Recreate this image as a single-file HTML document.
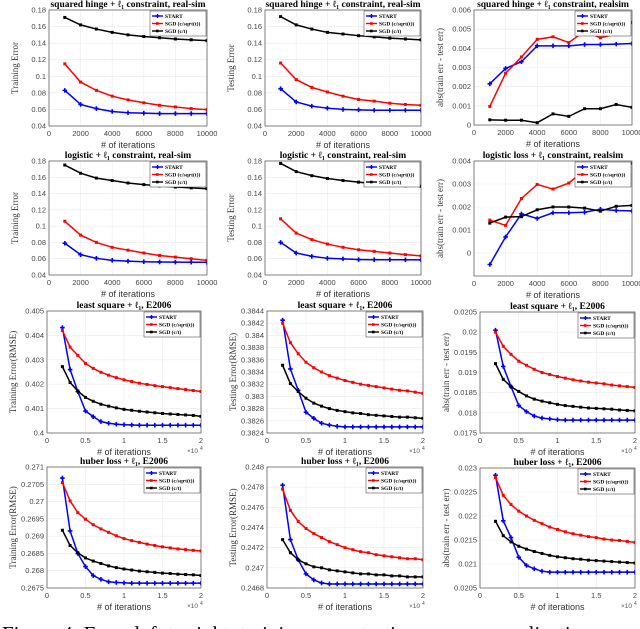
<!DOCTYPE html>
<html><head><meta charset="utf-8"><style>
body{margin:0;background:#fff;width:640px;height:629px;overflow:hidden}
svg{display:block}
</style></head><body>
<svg id="fig" width="640" height="629" xmlns="http://www.w3.org/2000/svg"></svg>
<script>
const xIter10 = [1000,2000,3000,4000,5000,6000,7000,8000,9000,10000];
const xIter19 = [2000,3000,4000,5000,6000,7000,8000,9000,10000,11000,12000,13000,14000,15000,16000,17000,18000,19000,20000];
const seriesNames = ["START","SGD (c/sqrt(t))","SGD (c/t)"];
const p1Start=[0.083,0.066,0.061,0.0575,0.056,0.0555,0.055,0.055,0.055,0.055];
const p1Sqrt=[0.115,0.093,0.083,0.076,0.0715,0.068,0.065,0.063,0.061,0.0598];
const p1T=[0.171,0.162,0.157,0.153,0.150,0.148,0.1465,0.145,0.144,0.143];
const p2Start=[0.085,0.069,0.064,0.0615,0.060,0.0595,0.059,0.059,0.059,0.059];
const p2Sqrt=[0.116,0.096,0.0865,0.081,0.076,0.072,0.070,0.0675,0.066,0.065];
const p2T=[0.172,0.162,0.157,0.153,0.151,0.149,0.1475,0.146,0.145,0.144];
const p3Start=[0.00215,0.00295,0.0033,0.00413,0.00413,0.00413,0.0042,0.0042,0.00422,0.00425];
const p3Sqrt=[0.00097,0.0027,0.00355,0.00447,0.0046,0.0043,0.0049,0.00455,0.00475,0.00535];
const p3T=[0.00027,0.00025,0.00025,0.00012,0.00058,0.00045,0.00085,0.00085,0.00107,0.00092];
const p4Start=[0.079,0.065,0.0605,0.058,0.057,0.0563,0.056,0.0558,0.0557,0.0556];
const p4Sqrt=[0.106,0.089,0.080,0.074,0.0705,0.067,0.064,0.062,0.060,0.058];
const p4T=[0.175,0.165,0.159,0.156,0.153,0.151,0.1495,0.148,0.147,0.146];
const p5Start=[0.080,0.067,0.063,0.0605,0.0598,0.059,0.0588,0.0588,0.0587,0.0586];
const p5Sqrt=[0.109,0.0915,0.0835,0.078,0.074,0.071,0.069,0.067,0.065,0.0635];
const p5T=[0.177,0.167,0.162,0.1585,0.156,0.154,0.152,0.151,0.1495,0.149];
const p6Start=[-0.0005,0.0007,0.0017,0.0015,0.00175,0.00175,0.00177,0.0019,0.00185,0.00183];
const p6Sqrt=[0.00143,0.0012,0.00237,0.00298,0.00278,0.00304,0.0036,0.0037,0.0036,0.0039];
const p6T=[0.0013,0.00156,0.00158,0.00188,0.002,0.002,0.00195,0.00182,0.00203,0.00207];
const p7Start=[0.40432,0.4026,0.4017,0.4009,0.40067,0.40047,0.4004,0.40036,0.40034,0.40033,0.40032,0.40032,0.40032,0.40032,0.40032,0.40032,0.40032,0.40032,0.40032];
const p7Sqrt=[0.4042,0.40352,0.40318,0.40285,0.40265,0.40249,0.40237,0.40227,0.40218,0.40211,0.40204,0.40199,0.40194,0.4019,0.40186,0.40182,0.40178,0.40174,0.4017];
const p7T=[0.40272,0.40207,0.40172,0.40146,0.4013,0.40118,0.4011,0.40103,0.40097,0.40093,0.40089,0.40086,0.40083,0.4008,0.40078,0.40076,0.40074,0.40072,0.40068];
const p8Start=[0.38425,0.38345,0.3831,0.38274,0.38264,0.38256,0.38253,0.38251,0.3825,0.3825,0.3825,0.3825,0.3825,0.3825,0.3825,0.3825,0.3825,0.3825,0.3825];
const p8Sqrt=[0.3842,0.38388,0.3837,0.38356,0.38347,0.3834,0.38334,0.3833,0.38326,0.38323,0.3832,0.38318,0.38316,0.38314,0.38312,0.3831,0.38309,0.38307,0.38305];
const p8T=[0.38351,0.38321,0.38308,0.38297,0.38289,0.38284,0.3828,0.38277,0.38275,0.38273,0.38272,0.3827,0.38269,0.38268,0.38267,0.38266,0.38266,0.38265,0.38264];
const p9Start=[0.02005,0.01915,0.01865,0.01818,0.01803,0.01792,0.01787,0.01785,0.01783,0.01782,0.01782,0.01782,0.01782,0.01782,0.01782,0.01782,0.01782,0.01782,0.01782];
const p9Sqrt=[0.02,0.01965,0.01945,0.01928,0.01918,0.01908,0.019,0.01895,0.0189,0.01886,0.01882,0.01879,0.01876,0.01874,0.01872,0.01869,0.01867,0.01865,0.01863];
const p9T=[0.01922,0.01883,0.01865,0.01853,0.01842,0.01834,0.01829,0.01825,0.01821,0.01818,0.01816,0.01814,0.01812,0.01811,0.0181,0.01809,0.01807,0.01806,0.01805];
const p10Start=[0.27068,0.26915,0.2685,0.26812,0.26786,0.26775,0.26768,0.26766,0.26765,0.26764,0.26764,0.26764,0.26764,0.26764,0.26764,0.26764,0.26764,0.26764,0.26764];
const p10Sqrt=[0.27055,0.27002,0.26968,0.26949,0.26933,0.26921,0.26911,0.26901,0.26893,0.26887,0.26882,0.26877,0.26873,0.26869,0.26866,0.26863,0.26861,0.26859,0.26857];
const p10T=[0.26917,0.26873,0.26852,0.26837,0.26828,0.26821,0.26814,0.26809,0.26805,0.26802,0.26799,0.26797,0.26795,0.26793,0.26792,0.2679,0.26789,0.26788,0.26786];
const p11Start=[0.24782,0.24728,0.24708,0.24694,0.24688,0.24685,0.24684,0.24684,0.24684,0.24684,0.24684,0.24684,0.24684,0.24684,0.24684,0.24684,0.24684,0.24684,0.24684];
const p11Sqrt=[0.24778,0.24757,0.24746,0.24739,0.24734,0.2473,0.24726,0.24723,0.2472,0.24718,0.24716,0.24715,0.24713,0.24712,0.24711,0.2471,0.24709,0.24709,0.24708];
const p11T=[0.24728,0.24715,0.24708,0.24704,0.24701,0.247,0.24698,0.24697,0.24696,0.24695,0.24694,0.24694,0.24693,0.24693,0.24692,0.24692,0.24691,0.24691,0.24691];
const p12Start=[0.02285,0.0219,0.02155,0.02114,0.02097,0.0209,0.02085,0.02083,0.02083,0.02083,0.02083,0.02083,0.02083,0.02083,0.02083,0.02083,0.02083,0.02083,0.02083];
const p12Sqrt=[0.0228,0.02243,0.02224,0.0221,0.022,0.02191,0.02184,0.02177,0.02172,0.02167,0.02163,0.0216,0.02157,0.02155,0.02152,0.0215,0.02149,0.02147,0.02145];
const p12T=[0.02189,0.02159,0.02146,0.02137,0.02131,0.02126,0.02122,0.02118,0.02115,0.02113,0.02111,0.0211,0.02108,0.02107,0.02106,0.02105,0.02104,0.02103,0.02102];

const xTicks10=[0,2000,4000,6000,8000,10000];
const xTickLabels10=["0","2000","4000","6000","8000","10000"];
const xTicks19=[0,5000,10000,15000,20000];
const xTickLabels19=["0","0.5","1","1.5","2"];
const yTicksErr=[0.04,0.06,0.08,0.1,0.12,0.14,0.16,0.18];
const yLabErr=["0.04","0.06","0.08","0.1","0.12","0.14","0.16","0.18"];
const yTicksP3=[0,0.001,0.002,0.003,0.004,0.005,0.006];
const yLabP3=["0","0.001","0.002","0.003","0.004","0.005","0.006"];
const yTicksP6=[0,0.001,0.002,0.003,0.004];
const yLabP6=["0","0.001","0.002","0.003","0.004"];
const yTicksP7=[0.4,0.401,0.402,0.403,0.404,0.405];
const yLabP7=["0.4","0.401","0.402","0.403","0.404","0.405"];
const yTicksP8=[0.3824,0.3826,0.3828,0.383,0.3832,0.3834,0.3836,0.3838,0.384,0.3842,0.3844];
const yLabP8=["0.3824","0.3826","0.3828","0.383","0.3832","0.3834","0.3836","0.3838","0.384","0.3842","0.3844"];
const yTicksP9=[0.0175,0.018,0.0185,0.019,0.0195,0.02,0.0205];
const yLabP9=["0.0175","0.018","0.0185","0.019","0.0195","0.02","0.0205"];
const yTicksP10=[0.2675,0.268,0.2685,0.269,0.2695,0.27,0.2705,0.271];
const yLabP10=["0.2675","0.268","0.2685","0.269","0.2695","0.27","0.2705","0.271"];
const yTicksP11=[0.2468,0.247,0.2472,0.2474,0.2476,0.2478,0.248];
const yLabP11=["0.2468","0.247","0.2472","0.2474","0.2476","0.2478","0.248"];
const yTicksP12=[0.0205,0.021,0.0215,0.022,0.0225,0.023];
const yLabP12=["0.0205","0.021","0.0215","0.022","0.0225","0.023"];

const NS="http://www.w3.org/2000/svg";
const svg=document.getElementById('fig');
function mk(tag,attrs,parent){const e=document.createElementNS(NS,tag);for(const k in attrs)e.setAttribute(k,attrs[k]);(parent||svg).appendChild(e);return e;}
const colors=["#0000ff","#ff0000","#000000"];

const panels=[
 {t:"squared hinge + ℓ₁ constraint, real-sim",yl:"Training Error",f:[49,207,10,126],x:xIter10,xt:xTicks10,xtl:xTickLabels10,xd:[0,10000],yd:[0.04,0.18],yt:yTicksErr,ytl:yLabErr,s:[p1Start,p1Sqrt,p1T],e:false,n:"squared-hinge-train"},
 {t:"squared hinge + ℓ₁ constraint, real-sim",yl:"Testing Error",f:[265,421,10,126],x:xIter10,xt:xTicks10,xtl:xTickLabels10,xd:[0,10000],yd:[0.04,0.18],yt:yTicksErr,ytl:yLabErr,s:[p2Start,p2Sqrt,p2T],e:false,n:"squared-hinge-test"},
 {t:"squared hinge + ℓ₁ constraint, realsim",yl:"abs(train err - test err)",f:[474,632,10,125],x:xIter10,xt:xTicks10,xtl:xTickLabels10,xd:[0,10000],yd:[0,0.006],yt:yTicksP3,ytl:yLabP3,s:[p3Start,p3Sqrt,p3T],e:false,n:"squared-hinge-gen"},
 {t:"logistic + ℓ₁ constraint, real-sim",yl:"Training Error",f:[49,207,161,275],x:xIter10,xt:xTicks10,xtl:xTickLabels10,xd:[0,10000],yd:[0.04,0.18],yt:yTicksErr,ytl:yLabErr,s:[p4Start,p4Sqrt,p4T],e:false,n:"logistic-train"},
 {t:"logistic + ℓ₁ constraint, real-sim",yl:"Testing Error",f:[265,421,161,275],x:xIter10,xt:xTicks10,xtl:xTickLabels10,xd:[0,10000],yd:[0.04,0.18],yt:yTicksErr,ytl:yLabErr,s:[p5Start,p5Sqrt,p5T],e:false,n:"logistic-test"},
 {t:"logistic loss + ℓ₁ constraint, realsim",yl:"abs(train err - test err)",f:[474,632,161,276],x:xIter10,xt:xTicks10,xtl:xTickLabels10,xd:[0,10000],yd:[-0.001,0.004],yt:yTicksP6,ytl:yLabP6,s:[p6Start,p6Sqrt,p6T],e:false,n:"logistic-gen"},
 {t:"least square + ℓ₁, E2006",yl:"Training Error(RMSE)",f:[47,201,311,433],x:xIter19,xt:xTicks19,xtl:xTickLabels19,xd:[0,20000],yd:[0.4,0.405],yt:yTicksP7,ytl:yLabP7,s:[p7Start,p7Sqrt,p7T],e:true,n:"least-square-train"},
 {t:"least square + ℓ₁, E2006",yl:"Testing Error(RMSE)",f:[267,423,311,433],x:xIter19,xt:xTicks19,xtl:xTickLabels19,xd:[0,20000],yd:[0.3824,0.3844],yt:yTicksP8,ytl:yLabP8,s:[p8Start,p8Sqrt,p8T],e:true,n:"least-square-test"},
 {t:"least square + ℓ₁, E2006",yl:"abs(train err - test err)",f:[480,635,312,433],x:xIter19,xt:xTicks19,xtl:xTickLabels19,xd:[0,20000],yd:[0.0175,0.0205],yt:yTicksP9,ytl:yLabP9,s:[p9Start,p9Sqrt,p9T],e:true,n:"least-square-gen"},
 {t:"huber loss + ℓ₁, E2006",yl:"Training Error(RMSE)",f:[47,201,467,588],x:xIter19,xt:xTicks19,xtl:xTickLabels19,xd:[0,20000],yd:[0.2675,0.271],yt:yTicksP10,ytl:yLabP10,s:[p10Start,p10Sqrt,p10T],e:true,n:"huber-train"},
 {t:"huber loss + ℓ₁, E2006",yl:"Testing Error(RMSE)",f:[267,423,467,588],x:xIter19,xt:xTicks19,xtl:xTickLabels19,xd:[0,20000],yd:[0.2468,0.248],yt:yTicksP11,ytl:yLabP11,s:[p11Start,p11Sqrt,p11T],e:true,n:"huber-test"},
 {t:"huber loss + ℓ₁, E2006",yl:"abs(train err - test err)",f:[480,635,468,588],x:xIter19,xt:xTicks19,xtl:xTickLabels19,xd:[0,20000],yd:[0.0205,0.023],yt:yTicksP12,ytl:yLabP12,s:[p12Start,p12Sqrt,p12T],e:true,n:"huber-gen"}
];

let cid=0;
panels.forEach(p=>{
  const [x0,x1,y0,y1]=p.f;
  const g=mk('g',{});
  
  
  const sx=v=>x0+(v-p.xd[0])/(p.xd[1]-p.xd[0])*(x1-x0);
  const sy=v=>y1-(v-p.yd[0])/(p.yd[1]-p.yd[0])*(y1-y0);
  p.yt.forEach((v,i)=>{
    const y=sy(v);
    mk('line',{x1:x0,x2:x1,y1:y,y2:y,stroke:'#ebebeb','stroke-width':0.6},g);
    const t=mk('text',{x:x0-3,y:y+2.5,'text-anchor':'end','font-size':7.5,fill:'#444','font-family':'Liberation Sans, sans-serif'},g);
    t.textContent=p.ytl[i];
    
    
  });
  p.xt.forEach((v,i)=>{
    const x=sx(v);
    mk('line',{x1:x,x2:x,y1:y0,y2:y1,stroke:'#ebebeb','stroke-width':0.6},g);
    const t=mk('text',{x:x,y:y1+10,'text-anchor':'middle','font-size':7.5,fill:'#444','font-family':'Liberation Sans, sans-serif'},g);
    t.textContent=p.xtl[i];
    
    
  });
  const clipId='c'+(cid++);
  const cp=mk('clipPath',{id:clipId},g);
  mk('rect',{x:x0,y:y0,width:x1-x0,height:y1-y0},cp);
  p.s.forEach((arr,si)=>{
    const sg=mk('g',{'clip-path':'url(#'+clipId+')'},g);
    
    
    const pts=arr.map((v,i)=>sx(p.x[i]).toFixed(2)+','+sy(v).toFixed(2)).join(' ');
    mk('polyline',{points:pts,fill:'none',stroke:colors[si],'stroke-width':1.5},sg);
    arr.forEach((v,i)=>{
      const cx=sx(p.x[i]),cy=sy(v);
      if(si===0){
        mk('path',{d:`M${cx-2.3},${cy}H${cx+2.3}M${cx},${cy-2.3}V${cy+2.3}`,stroke:colors[0],'stroke-width':1.6},sg);
      } else {
        mk('rect',{x:cx-1.5,y:cy-1.5,width:3,height:3,fill:colors[si]},sg);
      }
    });
  });
  mk('rect',{x:x0,y:y0,width:x1-x0,height:y1-y0,fill:'none',stroke:'#333','stroke-width':0.6},g);
  const tt=mk('text',{x:(x0+x1)/2,y:y0-3,'text-anchor':'middle','font-size':9.5,'font-weight':'bold',fill:'#000','font-family':'Liberation Serif, serif'},g);
  tt.textContent=p.t;
  
  
  const yl=mk('text',{x:0,y:0,transform:`translate(${x0-31},${(y0+y1)/2}) rotate(-90)`,'text-anchor':'middle','font-size':9,fill:'#333','font-family':'Liberation Serif, serif'},g);
  yl.textContent=p.yl;
  
  
  const xl=mk('text',{x:(x0+x1)/2,y:y1+22,'text-anchor':'middle','font-size':9,fill:'#333','font-family':'Liberation Sans, sans-serif'},g);
  xl.textContent='# of iterations';
  
  
  if(p.e){
    const ex=mk('text',{x:x1-14,y:y1+20,'font-size':6.5,fill:'#555','font-family':'Liberation Sans, sans-serif'},g);
    ex.textContent='×10';
    
    
    const e2=mk('text',{x:x1-1,y:y1+17,'font-size':5,fill:'#555','font-family':'Liberation Sans, sans-serif'},g);
    e2.textContent='4';
  }
  const lw=56,lh=25,lx=x1-lw-1,ly=y0+1;
  const lg=mk('g',{},g);
  
  
  mk('rect',{x:lx,y:ly,width:lw,height:lh,fill:'#fff',stroke:'#333','stroke-width':0.5},lg);
  seriesNames.forEach((nm,i)=>{
    const yy=ly+5+i*7.5;
    mk('line',{x1:lx+2,x2:lx+13,y1:yy,y2:yy,stroke:colors[i],'stroke-width':1.4},lg);
    if(i===0) mk('path',{d:`M${lx+5.5},${yy}H${lx+9.5}M${lx+7.5},${yy-2}V${yy+2}`,stroke:colors[0],'stroke-width':1.4},lg);
    else mk('rect',{x:lx+6,y:yy-1.3,width:2.6,height:2.6,fill:colors[i]},lg);
    const t=mk('text',{x:lx+15,y:yy+2,'font-size':5.5,'font-weight':'bold',fill:'#000','font-family':'Liberation Serif, serif'},lg);
    t.textContent=nm;
    
    
  });
});
const cap=mk('text',{x:2,y:641,'font-size':21,fill:'#000','font-family':'Liberation Serif, serif'});
cap.textContent='Figure 4: From left to right: training error, testing error, generalization error of c';


</script>
</body></html>
